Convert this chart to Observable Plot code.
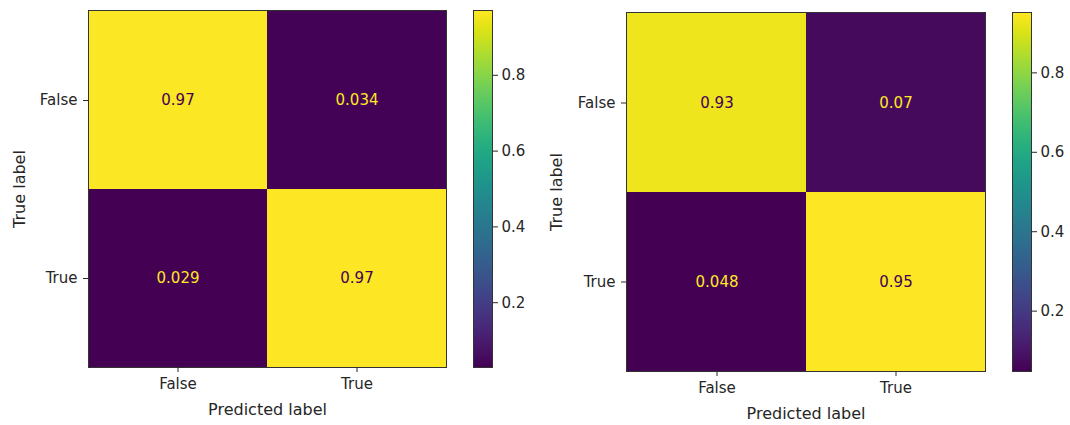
<!DOCTYPE html>
<html><head><meta charset="utf-8">
<script src="https://cdn.jsdelivr.net/npm/d3@7"></script>
<script src="https://cdn.jsdelivr.net/npm/@observablehq/plot@0.6"></script>
<style>
body{margin:0;background:#fff;}
#wrap{position:relative;width:1070px;height:425px;overflow:hidden;font-family:"DejaVu Sans",sans-serif;}
.p{position:absolute;top:0;}
.p svg{overflow:visible;max-width:none !important;}
</style></head><body><div id="wrap"></div>
<script>
const classLabels = ["False", "True"];
const trueLabels = ["False", "False", "True", "True"];
const predLabels = ["False", "True", "False", "True"];
const leftValues = [0.966, 0.034, 0.029, 0.971];
const rightValues = [0.93, 0.07, 0.048, 0.952];
const colorbarTicks = [0.2, 0.4, 0.6, 0.8];
const xAxisLabel = "Predicted label";
const yAxisLabel = "True label";

const FS = 15;
const style = {fontFamily: "'DejaVu Sans', sans-serif", fontSize: FS + "px", color: "#262626", background: "transparent", overflow: "visible", maxWidth: "none"};

function matrix(values, o) {
  const data = values.map((v, i) => ({t: trueLabels[i], p: predLabels[i], v}));
  const [lo, hi] = d3.extent(values);
  const mid = (lo + hi) / 2;
  const fmt = d3.format(".2~g");
  return Plot.plot({
    width: o.width, height: 425,
    marginLeft: 88, marginTop: o.top, marginBottom: 425 - o.bottom, marginRight: 1,
    style,
    x: {type: "band", domain: classLabels, padding: 0},
    y: {type: "band", domain: classLabels, padding: 0},
    color: {type: "linear", scheme: "viridis", domain: [lo, hi]},
    marks: [
      Plot.cell(data, {x: "p", y: "t", fill: "v"}),
      Plot.text(data.filter(d => d.v < mid), {x: "p", y: "t", text: d => fmt(d.v), fill: "#fde725", fontSize: FS}),
      Plot.text(data.filter(d => d.v >= mid), {x: "p", y: "t", text: d => fmt(d.v), fill: "#440154", fontSize: FS}),
      Plot.frame({stroke: "#333"}),
      Plot.axisX({tickSize: 5, tickPadding: 6, label: null, fontSize: FS}),
      Plot.axisX({ticks: [], tickSize: 0, label: xAxisLabel, labelAnchor: "center", labelOffset: o.xlo, fontSize: 16}),
      Plot.axisY({tickSize: 5, tickPadding: 6, label: null, fontSize: FS}),
      Plot.axisY({ticks: [], tickSize: 0, label: yAxisLabel, labelAnchor: "center", labelOffset: o.ylo, fontSize: 16})
    ]
  });
}

function colorbar(values, o) {
  const [lo, hi] = d3.extent(values);
  return Plot.plot({
    width: 70, height: 425,
    marginLeft: 1, marginRight: 50, marginTop: o.top, marginBottom: 425 - o.bottom,
    style,
    x: {domain: [0, 1], axis: null},
    y: {domain: [lo, hi]},
    color: {type: "linear", scheme: "viridis", domain: [lo, hi]},
    marks: [
      Plot.raster({x1: 0, x2: 1, y1: lo, y2: hi, fill: (x, y) => y, width: 1, height: 256}),
      Plot.frame({stroke: "#333"}),
      Plot.axisY({anchor: "right", ticks: colorbarTicks, tickFormat: ".1f", tickSize: 5, tickPadding: 4, fontSize: FS, label: null})
    ]
  });
}

const wrap = document.getElementById("wrap");
function place(node, left, w) {
  const d = document.createElement("div");
  d.className = "p";
  d.style.left = left + "px";
  d.style.width = w + "px";
  d.appendChild(node);
  wrap.appendChild(d);
}
place(matrix(leftValues, {width: 447, top: 10, bottom: 367, xlo: 47, ylo: 75}), 0, 447);
place(colorbar(leftValues, {top: 10, bottom: 367}), 472, 70);
place(matrix(rightValues, {width: 448, top: 12, bottom: 371, xlo: 47, ylo: 76}), 538, 448);
place(colorbar(rightValues, {top: 12, bottom: 371}), 1011, 70);
</script>
</body></html>
